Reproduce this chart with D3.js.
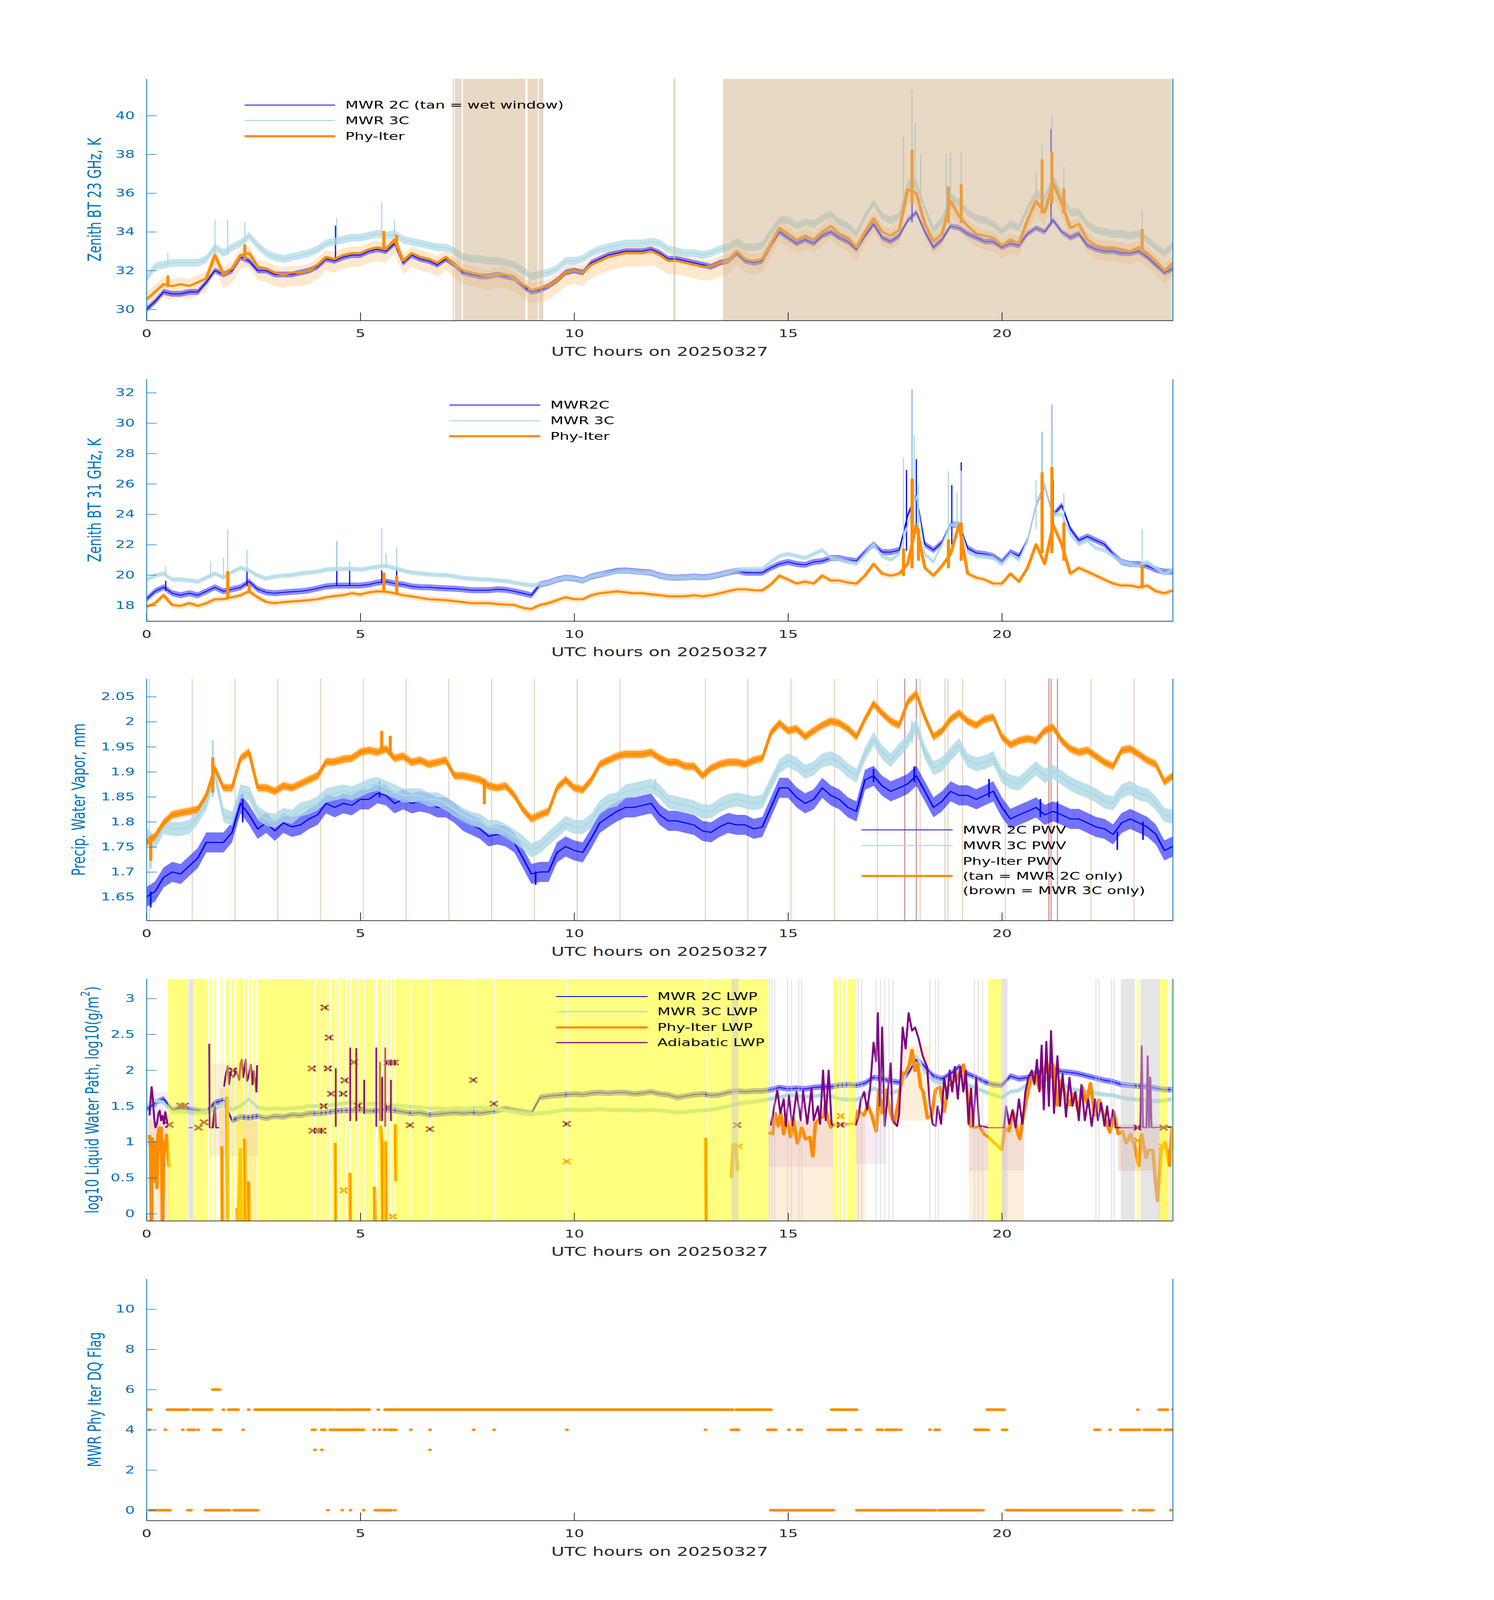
<!DOCTYPE html>
<html>
<head>
<meta charset="utf-8">
<script src="https://cdn.jsdelivr.net/npm/d3@7"></script>
<style>
  html, body { margin: 0; padding: 0; background: #fff; overflow: hidden; }
  svg { display: block; }
  text { font-family: "DejaVu Sans", sans-serif; }
</style>
</head>
<body>
<svg id="fig"></svg>
<script>
// ---------- data ----------
// common sampling grid, hours UTC every 0.2 h
const hr = d3.range(121).map(i => i * 0.2);
const xTicks = [0, 5, 10, 15, 20];

// panel 1 : 23 GHz BT
const mwr2c23 = [30.0,30.4,30.9,30.8,30.8,30.9,30.9,31.4,32.0,31.8,
 32.0,32.7,32.5,32.0,32.0,31.8,31.8,31.8,31.9,32.0,
 32.2,32.6,32.5,32.7,32.8,32.8,33.0,33.1,33.0,33.4,
 32.4,32.8,32.6,32.5,32.3,32.6,32.3,31.9,31.8,31.7,
 31.7,31.8,31.7,31.6,31.2,30.9,31.0,31.2,31.5,31.9,
 32.0,31.9,32.4,32.6,32.8,32.9,33.0,33.0,33.0,33.1,
 32.9,32.6,32.6,32.5,32.4,32.3,32.2,32.4,32.5,32.9,
 32.5,32.4,32.5,33.3,34.0,33.7,33.4,33.6,33.4,33.8,
 34.0,33.7,33.5,33.1,33.8,34.4,33.7,33.5,33.8,34.6,
 35.0,34.0,33.2,33.6,34.3,34.2,33.9,33.7,33.5,33.5,
 33.2,33.4,33.3,33.9,34.2,34.0,34.6,34.0,33.7,33.9,
 33.3,33.1,33.0,33.0,32.9,32.9,33.0,32.7,32.3,31.9,
 32.1];
const mwr3c23 = [31.6,32.2,32.3,32.4,32.4,32.4,32.4,32.6,33.2,32.9,
 33.2,33.4,33.8,33.3,32.9,32.7,32.6,32.7,32.8,32.9,
 33.1,33.4,33.5,33.6,33.7,33.7,33.8,33.9,33.8,33.9,
 33.6,33.5,33.4,33.3,33.2,33.2,33.0,32.7,32.6,32.6,
 32.5,32.5,32.4,32.3,32.0,31.7,31.8,31.9,32.1,32.5,
 32.5,32.6,32.9,33.1,33.2,33.3,33.4,33.4,33.4,33.5,
 33.4,33.1,33.0,32.9,32.9,32.8,32.9,33.1,33.2,33.5,
 33.2,33.2,33.3,34.0,34.6,34.6,34.3,34.5,34.4,34.7,
 34.9,34.5,34.3,33.9,34.8,35.5,34.8,34.6,34.8,36.5,
 36.5,35.2,34.1,34.6,35.8,35.5,35.0,34.7,34.6,34.4,
 34.0,34.4,34.2,35.2,36.0,35.7,36.8,35.8,35.0,35.0,
 34.4,34.1,34.0,33.9,33.9,33.8,33.9,33.6,33.2,32.9,
 33.3];
const phy23 = [30.5,30.9,31.3,31.2,31.3,31.2,31.4,31.6,32.8,31.8,
 32.1,32.8,32.9,32.2,32.1,31.9,31.8,31.9,31.9,32.0,
 32.3,32.7,32.6,32.8,32.9,32.9,33.1,33.2,33.1,33.6,
 32.5,32.9,32.7,32.6,32.4,32.7,32.3,32.0,31.9,31.8,
 31.7,31.8,31.8,31.6,31.3,31.0,31.1,31.2,31.5,31.9,
 32.0,31.9,32.3,32.5,32.7,32.8,32.9,32.9,32.9,33.0,
 32.8,32.5,32.5,32.4,32.3,32.2,32.2,32.4,32.5,33.0,
 32.6,32.5,32.6,33.4,34.2,33.9,33.6,33.8,33.6,34.0,
 34.3,33.9,33.7,33.2,34.0,34.7,34.0,33.8,34.1,36.2,
 36.0,34.4,33.5,33.9,35.6,34.8,34.3,33.9,33.8,33.7,
 33.3,33.6,33.4,34.6,35.6,35.0,36.5,35.5,34.2,34.4,
 33.6,33.3,33.2,33.2,33.1,33.0,33.2,32.9,32.5,32.0,
 32.4];
const phyErr23 = [0.7, 0.35];          // below, above
const noise2c23 = 0.15, noise3c23 = 0.2;  // half spread of the sample-to-sample scatter
// spikes: [hour, from, to]
const spikes2c23 = [[4.42,32.6,34.3],[17.9,34.5,35.6],[21.15,34.5,39.3]];
const spikes3c23 = [[0.5,32.3,32.9],[1.6,32.8,34.6],[1.9,32.8,34.6],[2.3,33.4,34.5],[4.45,33.4,34.7],
 [5.5,33.9,35.5],[5.8,33.8,34.6],[17.7,35.5,38.9],[17.9,36.0,41.3],[17.97,36.0,39.6],[18.1,35.5,38.0],
 [18.7,35.0,38.0],[18.8,35.2,38.1],[19.05,35.2,38.1],[20.8,35.5,37.1],[20.94,35.5,38.5],[21.17,36.0,40.0],
 [21.45,35.5,37.4],[23.28,33.8,35.1]];
const spikesPhy23 = [[0.5,31.2,31.7],[2.3,32.6,33.3],[5.55,33.1,34.0],[5.85,33.2,33.8],[17.9,35.5,38.2],
 [18.75,34.5,36.3],[19.05,34.5,36.4],[20.94,35.0,37.7],[21.17,35.5,38.1],[21.45,35.0,36.2],[23.28,33.0,34.1]];
const wetWindows = [[7.16,7.19],[7.21,7.37],[7.4,8.86],[8.91,9.15],[9.17,9.28],[12.32,12.37],[13.48,24]];

// panel 2 : 31 GHz BT
const mwr2c31 = [18.41,18.93,19.2,18.8,18.67,18.8,18.67,18.93,19.19,18.93,
 19.06,19.19,19.57,19.06,18.86,18.8,18.86,18.9,18.93,19.0,
 19.12,19.25,19.3,19.31,19.31,19.31,19.38,19.5,19.57,19.44,
 19.38,19.25,19.2,19.19,19.15,19.12,19.1,19.06,19.0,19.0,
 19.0,19.06,19.03,18.93,18.8,18.67,19.38,19.5,19.7,19.83,
 19.77,19.64,19.9,20.03,20.15,20.28,20.3,20.25,20.2,20.16,
 19.96,19.85,19.83,19.85,19.9,19.85,19.9,20.03,20.16,20.28,
 20.16,20.15,20.16,20.47,20.73,20.86,20.73,20.67,20.86,20.92,
 21.12,21.12,20.99,20.92,21.51,22.02,21.51,21.51,21.64,23.95,
 25.24,22.02,21.64,22.15,23.31,23.31,21.77,21.45,21.38,21.25,
 20.86,21.51,21.25,22.28,24.6,25.89,23.95,24.6,23.05,22.28,
 22.54,22.28,22.02,21.38,20.86,20.73,20.73,20.6,20.35,20.22,
 20.22];
const mwr3c31 = [19.7,19.96,20.1,19.7,19.7,19.64,19.57,19.83,20.1,19.83,
 20.2,20.47,20.3,19.96,19.77,19.9,19.96,20.0,20.1,20.16,
 20.22,20.35,20.4,20.4,20.41,20.35,20.45,20.55,20.6,20.45,
 20.3,20.16,20.1,20.05,20.0,20.0,19.9,19.8,19.77,19.72,
 19.7,19.64,19.6,19.5,19.4,19.31,19.38,19.5,19.7,19.83,
 19.77,19.64,19.9,20.03,20.1,20.22,20.28,20.22,20.16,20.16,
 19.96,19.83,19.83,19.83,19.9,19.83,19.9,20.03,20.16,20.35,
 20.4,20.38,20.41,20.86,21.25,21.38,21.25,21.12,21.38,21.64,
 21.12,21.05,20.86,20.73,21.38,22.02,21.25,21.0,21.38,23.3,
 25.2,21.38,20.86,22.02,23.3,23.3,21.5,21.25,21.2,21.12,
 20.73,21.38,21.0,22.28,24.6,25.9,24.0,24.0,22.67,22.02,
 22.28,21.77,21.64,21.25,20.86,20.73,20.6,20.86,20.47,20.09,
 20.35];
const phy31 = [17.9,18.15,18.67,18.03,17.97,18.15,17.97,18.15,18.41,18.41,
 18.54,18.67,18.93,18.54,18.22,18.15,18.22,18.26,18.3,18.35,
 18.41,18.54,18.62,18.67,18.8,18.73,18.86,18.93,18.9,18.8,
 18.67,18.6,18.5,18.41,18.38,18.35,18.28,18.22,18.15,18.15,
 18.15,18.09,18.05,18.03,17.84,17.77,18.03,18.15,18.35,18.54,
 18.41,18.41,18.67,18.8,18.86,18.93,18.86,18.8,18.8,18.73,
 18.67,18.6,18.6,18.6,18.67,18.6,18.67,18.8,18.93,19.06,
 19.06,19.0,18.99,19.38,19.96,19.7,19.44,19.57,19.44,19.96,
 19.64,19.64,19.5,19.44,19.96,20.73,20.09,19.96,20.09,20.73,
 23.3,20.47,19.96,20.6,21.38,23.31,20.09,19.83,19.7,19.44,
 19.44,20.09,19.57,20.47,22.02,20.73,23.3,22.0,20.09,20.47,
 20.22,19.96,19.7,19.44,19.31,19.31,19.19,19.31,18.93,18.8,
 18.99];
const phyErr31 = [0.22, 0.2];
const noise2c31 = 0.2, noise3c31 = 0.15;
const spikes2c31 = [[0.45,19.0,19.6],[2.35,19.3,20.35],[4.45,19.3,22.2],[4.75,19.3,20.3],[5.5,19.5,20.3],
 [5.85,19.4,20.4],[17.77,21.6,26.9],[17.9,23.0,32.2],[18.0,23.0,27.6],[18.83,22.0,25.9],[19.05,22.5,27.4],
 [20.94,24.0,29.4],[21.17,24.0,31.2],[21.2,23.0,26.2]];
const spikes3c31 = [[0.45,19.9,20.55],[1.5,19.8,20.86],[1.8,19.8,21.1],[1.9,19.9,22.98],[2.35,20.3,21.64],
 [4.45,20.3,22.2],[4.75,20.4,20.9],[5.5,20.5,23.08],[5.6,20.5,21.4],[5.85,20.4,21.8],[17.7,21.4,27.7],
 [17.9,23.0,32.2],[17.95,23.0,29.2],[18.05,22.0,26.0],[18.75,22.0,26.8],[18.95,22.5,25.4],[19.05,22.5,26.85],
 [20.8,23.0,26.2],[20.94,24.0,29.4],[21.17,24.0,31.2],[21.45,23.0,25.37],[23.28,20.6,22.99]];
const spikesPhy31 = [[1.9,18.5,20.2],[2.4,18.9,19.4],[5.55,18.9,20.09],[5.85,18.8,19.9],[17.7,20.0,21.7],
 [17.9,20.5,26.3],[18.05,21.0,23.0],[18.75,20.5,22.3],[19.05,21.0,23.4],[20.94,21.5,26.7],[21.17,21.5,27.05],
 [21.45,21.0,23.4],[23.28,19.2,20.6]];

// panel 3 : PWV
const pwv2c = [1.65,1.661,1.689,1.70,1.696,1.712,1.728,1.759,1.759,1.759,
 1.779,1.837,1.814,1.786,1.798,1.782,1.798,1.79,1.794,1.806,
 1.814,1.837,1.829,1.837,1.833,1.845,1.845,1.857,1.853,1.837,
 1.845,1.837,1.841,1.837,1.829,1.829,1.818,1.802,1.794,1.786,
 1.771,1.775,1.771,1.759,1.728,1.696,1.70,1.70,1.739,1.751,
 1.743,1.739,1.767,1.798,1.81,1.821,1.829,1.829,1.833,1.837,
 1.814,1.802,1.802,1.798,1.794,1.782,1.779,1.79,1.798,1.794,
 1.794,1.786,1.79,1.829,1.868,1.868,1.849,1.837,1.845,1.868,
 1.853,1.845,1.829,1.821,1.884,1.892,1.872,1.861,1.868,1.876,
 1.892,1.861,1.829,1.841,1.861,1.853,1.853,1.845,1.853,1.861,
 1.829,1.806,1.814,1.821,1.829,1.814,1.821,1.814,1.806,1.806,
 1.798,1.79,1.786,1.775,1.798,1.806,1.798,1.79,1.775,1.743,
 1.751];
const pwv3c = [1.775,1.759,1.79,1.786,1.786,1.79,1.81,1.837,1.896,1.814,
 1.806,1.861,1.857,1.818,1.806,1.802,1.814,1.81,1.825,1.829,
 1.837,1.853,1.857,1.861,1.857,1.864,1.872,1.876,1.868,1.861,
 1.853,1.853,1.853,1.845,1.845,1.837,1.825,1.814,1.806,1.802,
 1.79,1.79,1.782,1.771,1.759,1.743,1.751,1.767,1.782,1.798,
 1.79,1.79,1.802,1.829,1.841,1.845,1.861,1.864,1.868,1.872,
 1.861,1.841,1.837,1.833,1.829,1.821,1.821,1.833,1.841,1.845,
 1.841,1.837,1.841,1.876,1.911,1.923,1.915,1.9,1.907,1.923,
 1.927,1.919,1.903,1.892,1.935,1.966,1.939,1.923,1.943,1.962,
 1.993,1.939,1.907,1.915,1.935,1.954,1.923,1.915,1.919,1.927,
 1.892,1.88,1.876,1.892,1.907,1.892,1.9,1.888,1.876,1.868,
 1.861,1.853,1.841,1.837,1.861,1.868,1.857,1.853,1.837,1.814,
 1.81];
const pwvPhy = [1.759,1.771,1.798,1.814,1.818,1.821,1.825,1.853,1.907,1.868,
 1.868,1.927,1.939,1.868,1.868,1.861,1.872,1.868,1.876,1.884,
 1.892,1.92,1.92,1.925,1.927,1.939,1.943,1.939,1.946,1.927,
 1.931,1.919,1.923,1.915,1.919,1.923,1.892,1.892,1.888,1.884,
 1.872,1.868,1.872,1.853,1.825,1.806,1.814,1.821,1.868,1.884,
 1.868,1.864,1.884,1.915,1.923,1.931,1.935,1.935,1.935,1.939,
 1.927,1.919,1.919,1.911,1.911,1.892,1.907,1.915,1.919,1.919,
 1.915,1.923,1.927,1.978,1.997,1.982,1.986,1.97,1.982,1.993,
 2.001,1.997,1.986,1.97,2.005,2.036,2.017,2.001,1.993,2.04,
 2.056,2.009,1.97,1.982,2.005,2.017,2.001,1.993,2.005,2.009,
 1.97,1.954,1.962,1.966,1.962,1.982,1.989,1.962,1.946,1.939,
 1.943,1.931,1.919,1.911,1.943,1.946,1.935,1.923,1.915,1.88,
 1.892];
const pwvErr = [0.01, 0.01];
const noisePwv2c = 0.02, noisePwv3c = 0.014, noisePwvPhy = 0.007;
const spikesPwv2c = [[0.1,1.66,1.63],[9.1,1.70,1.675],[2.25,1.80,1.855],[5.45,1.85,1.88],[17.0,1.88,1.905],
 [17.95,1.88,1.91],[19.7,1.85,1.885],[20.9,1.81,1.845],[21.3,1.80,1.84],[22.7,1.78,1.745],[23.3,1.80,1.765]];
const spikesPwv3c = [[0.1,1.775,1.708],[1.55,1.85,1.962],[11.9,1.86,1.885],[17.9,1.96,2.0]];
const spikesPwvPhy = [[0.1,1.77,1.724],[1.55,1.86,1.927],[5.5,1.94,1.98],[5.7,1.94,1.97],[7.9,1.884,1.837]];
const only2cHours = [0.07,1.07,2.07,3.07,4.07,5.07,6.07,7.07,8.07,9.07,10.07,11.07,13.07,14.06,15.07,
 16.09,17.09,18.09,18.67,18.74,19.08,20.08,22.08,23.09];
const only3cHours = [17.73,18.0,21.1,21.15,21.3];

// panel 4 : LWP (log10)
const lwp2c = [1.45,1.55,1.60,1.45,1.47,1.46,1.44,1.42,1.55,1.58,
 1.30,1.35,1.34,1.36,1.33,1.36,1.35,1.38,1.37,1.40,
 1.40,1.41,1.43,1.44,1.44,1.45,1.43,1.44,1.45,1.44,
 1.42,1.40,1.41,1.38,1.39,1.40,1.41,1.40,1.41,1.40,
 1.42,1.44,1.47,1.44,1.42,1.40,1.62,1.64,1.65,1.66,
 1.67,1.66,1.68,1.69,1.68,1.69,1.69,1.67,1.68,1.70,
 1.67,1.66,1.62,1.64,1.66,1.67,1.65,1.66,1.69,1.71,
 1.70,1.71,1.71,1.73,1.76,1.74,1.75,1.74,1.76,1.77,
 1.77,1.79,1.80,1.79,1.82,1.90,1.88,1.85,1.83,1.95,
 2.15,2.05,1.92,1.88,1.95,2.05,1.95,1.90,1.84,1.80,
 1.79,1.92,1.88,1.90,1.97,1.99,2.03,1.98,1.97,1.95,
 1.92,1.89,1.86,1.84,1.80,1.79,1.78,1.77,1.75,1.73,
 1.73];
const lwp3c = [1.50,1.58,1.55,1.42,1.42,1.41,1.40,1.42,1.45,1.55,
 1.45,1.50,1.60,1.48,1.46,1.47,1.46,1.47,1.48,1.50,
 1.50,1.51,1.52,1.54,1.55,1.55,1.53,1.54,1.52,1.51,
 1.50,1.49,1.48,1.47,1.47,1.46,1.47,1.47,1.47,1.48,
 1.47,1.46,1.44,1.42,1.40,1.39,1.40,1.41,1.43,1.45,
 1.45,1.44,1.45,1.46,1.45,1.44,1.45,1.44,1.44,1.45,
 1.44,1.43,1.41,1.42,1.43,1.44,1.45,1.47,1.50,1.53,
 1.55,1.56,1.58,1.60,1.62,1.66,1.64,1.63,1.64,1.65,
 1.64,1.60,1.59,1.59,1.65,1.75,1.70,1.68,1.72,2.00,
 2.20,1.98,1.85,1.82,1.90,1.98,1.80,1.75,1.70,1.66,
 1.62,1.70,1.72,1.80,1.88,1.85,1.98,1.82,1.74,1.72,
 1.70,1.68,1.66,1.65,1.62,1.60,1.59,1.58,1.57,1.58,
 1.60];
const noiseLwp2c = 0.04, noiseLwp3c = 0.03;
// [hour, value]; null breaks the line
const lwpPhy = [[0.07,1.1],[0.1,0.9],[0.116,-0.3],[0.13,1.05],[0.16,0.5],[0.18,0.45],[0.2,1.0],[0.22,0.85],
 [0.245,0.36],[0.27,1.1],[0.3,1.2],[0.32,0.9],[0.342,1.2],[0.36,0.6],[0.375,-0.3],[0.4,0.8],[0.42,1.0],
 [0.45,0.9],[0.47,1.1],[0.5,0.85],[0.53,0.65],[0.54,null],
 [1.74,null],[1.76,0.94],[1.78,-0.3],[1.79,null],[1.86,null],[1.88,1.63],[1.9,-0.3],[1.91,null],
 [2.1,null],[2.12,0.08],[2.14,-0.3],[2.2,0.9],[2.22,-0.3],[2.24,null],[2.3,1.05],[2.32,-0.3],[2.34,null],
 [2.39,0.45],[2.41,-0.3],[2.43,null],
 [4.40,null],[4.41,0.99],[4.43,-0.3],[4.44,null],[4.74,null],[4.75,0.57],[4.77,-0.3],[4.78,null],
 [5.32,null],[5.33,0.38],[5.35,-0.3],[5.36,null],
 [5.46,null],[5.47,1.23],[5.5,0.9],[5.53,-0.3],[5.55,0.1],[5.58,1.0],[5.6,-0.3],[5.61,null],
 [5.81,null],[5.82,1.25],[5.84,0.45],[5.85,null],[13.06,null],[13.07,1.06],[13.09,-0.3],[13.1,null],
 [13.67,null],[13.68,0.5],[13.72,0.97],[13.78,0.95],[13.82,0.6],[13.83,null],
 [14.54,1.13],[14.64,1.11],[14.70,1.40],[14.77,1.22],[14.83,1.40],[14.90,1.11],[14.96,1.33],[15.06,1.07],
 [15.12,1.33],[15.22,0.98],[15.32,1.20],[15.41,1.04],[15.51,1.07],[15.58,0.80],[15.64,1.26],[15.74,1.33],
 [15.83,1.35],[15.87,1.51],[15.93,1.33],[16.0,1.20],[16.06,1.24],[16.25,1.24],[16.58,1.26],[16.64,1.44],
 [16.77,1.37],[16.87,1.51],[16.96,1.37],[17.06,1.15],[17.13,1.73],[17.19,1.40],[17.29,1.73],[17.39,1.42],
 [17.48,1.26],[17.58,1.55],[17.68,1.97],[17.74,1.95],[17.84,2.08],[17.90,2.28],[17.97,1.99],[18.03,2.08],
 [18.10,1.77],[18.16,1.70],[18.26,1.33],[18.36,1.37],[18.45,1.73],[18.55,1.77],[18.65,1.42],[18.74,1.77],
 [18.84,1.82],[18.94,1.88],[19.03,1.99],[19.10,2.08],[19.2,1.64],[19.26,1.22],[19.36,1.20],[19.48,1.22],
 [19.58,1.11],[19.68,1.07],[20.0,0.89],[20.07,1.20],[20.16,1.15],[20.26,1.42],[20.36,1.15],[20.42,1.04],
 [20.49,1.33],[20.59,1.64],[20.68,1.88],[20.78,1.95],[20.88,1.73],[20.97,1.88],[21.04,2.12],[21.14,1.90],
 [21.2,2.08],[21.30,1.51],[21.39,1.86],[21.49,1.64],[21.59,1.51],[21.68,1.68],[21.78,1.44],[21.88,1.77],
 [21.98,1.55],[22.07,1.82],[22.17,1.37],[22.27,1.59],[22.4,1.33],[22.53,1.13],[22.62,1.42],[22.72,1.11],
 [22.82,1.15],[22.91,0.98],[23.01,1.11],[23.11,0.93],[23.20,0.67],[23.27,1.11],[23.37,0.78],[23.43,0.89],
 [23.53,0.89],[23.59,0.45],[23.64,0.18],[23.72,0.89],[23.82,1.0],[23.92,0.67],[23.98,1.20]];
const lwpAdiabatic = [[0.05,null],[0.07,1.37],[0.12,1.77],[0.15,1.6],[0.18,1.33],[0.21,1.2],[0.245,1.26],
 [0.28,1.4],[0.31,1.44],[0.34,1.3],[0.375,1.37],[0.41,1.25],[0.44,1.42],[0.49,1.26],[0.5,null],
 [0.98,null],[0.99,1.2],[1.08,1.2],[1.09,null],
 [1.46,null],[1.47,2.37],[1.48,1.2],[1.55,1.2],[1.6,1.5],[1.62,1.2],[1.7,1.2],[1.72,null],
 [1.8,null],[1.81,1.77],[1.86,1.95],[1.9,2.06],[1.93,1.8],[1.96,1.97],[2.03,1.9],[2.1,1.99],[2.17,1.86],
 [2.2,2.1],[2.23,2.15],[2.26,1.9],[2.28,1.97],[2.32,2.15],[2.35,1.85],[2.38,1.9],[2.44,2.08],[2.48,1.8],
 [2.51,1.99],[2.57,1.7],[2.59,2.07],[2.6,null],
 [14.58,null],[14.6,1.23],[14.68,1.5],[14.75,1.72],[14.82,1.4],[14.9,1.6],[14.95,1.22],[15.02,1.65],
 [15.1,1.23],[15.2,1.7],[15.3,1.3],[15.35,1.72],[15.45,1.25],[15.55,1.75],[15.6,1.3],[15.7,1.5],[15.75,1.25],
 [15.82,2.0],[15.88,1.3],[15.95,2.0],[16.02,1.25],[16.06,1.23],[16.1,null],
 [16.56,null],[16.58,1.23],[16.64,1.33],[16.7,1.58],[16.78,1.7],[16.85,1.45],[16.92,1.75],[17.0,2.39],
 [17.06,2.12],[17.1,2.8],[17.15,1.5],[17.2,2.6],[17.26,1.22],[17.32,1.6],[17.4,2.1],[17.45,1.3],[17.55,1.22],
 [17.6,1.4],[17.68,2.6],[17.75,2.3],[17.82,2.8],[17.9,2.55],[17.97,2.6],[18.05,2.45],[18.15,2.2],[18.25,2.05],
 [18.32,1.5],[18.38,1.25],[18.45,1.22],[18.5,1.5],[18.58,1.25],[18.65,1.9],[18.72,1.6],[18.78,2.0],
 [18.84,1.7],[18.9,2.05],[18.97,1.6],[19.03,2.05],[19.1,1.7],[19.16,2.0],[19.22,1.25],[19.28,1.75],
 [19.33,1.22],[19.4,1.9],[19.47,1.22],[19.55,1.22],[19.68,1.2],[20.05,1.2],[20.1,1.5],[20.17,1.25],
 [20.25,1.45],[20.32,1.2],[20.4,1.6],[20.48,1.25],[20.55,1.7],[20.62,1.9],[20.7,2.0],[20.76,1.8],[20.82,2.15],
 [20.88,1.7],[20.93,2.35],[20.98,1.45],[21.04,2.4],[21.1,1.5],[21.15,2.55],[21.22,1.4],[21.3,2.2],[21.36,1.5],
 [21.42,1.95],[21.5,1.35],[21.58,1.9],[21.65,1.5],[21.72,1.7],[21.8,1.3],[21.86,1.8],[21.94,1.3],[22.02,1.6],
 [22.1,1.22],[22.18,1.6],[22.25,1.3],[22.32,1.55],[22.4,1.22],[22.46,1.5],[22.52,1.22],[22.6,1.45],[22.66,1.2],
 [23.24,1.2],[23.27,2.34],[23.3,1.2],[23.38,1.2],[23.41,2.2],[23.44,1.2],[23.47,1.9],[23.5,1.2],[24.0,1.21]];
const spikesAdiabatic = [[4.43,1.22,2.02],[4.76,1.3,2.31],[4.91,1.3,2.30],[5.09,1.4,1.86],[5.37,1.22,2.31],
 [5.46,1.3,2.11],[5.51,1.3,1.9],[5.58,1.22,2.31],[5.72,1.3,1.86]];
// uncertainty blocks [h0, h1, lo, hi]
const bandPhyLwp = [[0.05,0.55,-0.1,1.3],[1.7,1.95,-0.1,1.75],[2.1,2.6,-0.1,1.3],[14.54,16.06,-0.1,1.3],
 [16.58,16.8,-0.1,1.4],[17.6,18.3,1.3,2.35],[19.23,19.68,-0.1,1.25],[20.0,20.52,-0.1,1.3],
 [22.72,23.65,0.6,1.25],[23.65,24.0,-0.1,1.2]];
const bandAdiabatic = [[0.05,0.5,0.8,1.7],[1.46,2.6,0.8,2.1],[14.54,16.06,0.65,1.3],
 [16.58,17.3,0.7,1.4],[19.23,19.68,0.6,1.25],[20.0,20.52,0.6,1.25],[22.72,23.65,0.6,1.25]];
const xAdiabatic = [[0.536,1.24],[0.795,1.506],[0.892,1.506],[1.215,1.20],[1.344,1.275],[2.023,1.996],
 [3.866,2.025],[3.886,1.158],[4.015,1.158],[4.105,1.158],[4.144,1.50],[4.17,2.874],[4.24,2.025],[4.273,2.455],
 [4.318,1.672],[4.596,1.672],[4.641,1.859],[4.855,2.113],[4.945,1.506],[5.644,2.107],[5.728,2.107],
 [5.805,2.107],[5.644,1.484],[6.16,1.235],[6.626,1.18],[7.641,1.864],[8.12,1.533],[9.826,1.253],
 [13.81,1.236],[16.23,1.24],[23.17,1.2],[23.78,1.2]];
const xPhy = [[4.609,0.326],[9.826,0.73],[5.76,-0.04],[13.85,0.94],[16.23,1.36],[23.18,1.02],[23.76,0.94]];
const dqYellow = [[0,0.03],[0.5,0.97],[1.1,1.43],[1.48,1.52],[1.58,1.62],[1.72,1.74],[1.79,1.81],[1.86,1.94],
 [1.99,2.05],[2.1,2.26],[2.3,2.36],[2.4,2.46],[2.5,2.55],[2.6,14.54],[16.06,16.58],[19.68,20.0],[23.15,23.2],
 [23.69,23.88],[23.95,24.0]];
const dqYellowGaps = [3.93,4.09,4.19,4.30,4.42,4.48,4.56,4.67,4.77,4.90,4.98,5.09,5.32,5.38,5.51,5.61,5.71,
 5.81,6.16,6.63,7.65,8.13,9.81,13.08,16.17,16.27,16.37];
const dqGray = [[0.98,1.1],[13.68,13.84],[20.0,20.13],[22.78,23.11],[23.24,23.69]];
const dqGrayLines = [14.57,14.63,14.69,14.99,15.08,15.25,15.32,16.64,16.72,17.06,17.16,17.26,17.36,17.45,
 18.32,18.45,18.52,19.36,19.45,19.55,22.2,22.27,22.56,22.62];

// panel 5 : DQ flag runs [flag, from, to]
const dqFlagRuns = [
 [5,0,0.1],[5,0.49,0.98],[5,1.09,1.52],[5,1.8,1.8],[5,1.92,2.14],[5,2.39,2.39],[5,2.54,4.38],[5,4.45,4.68],
 [5,4.74,5.02],[5,5.07,5.21],[5,5.42,5.42],[5,5.58,13.70],[5,13.79,14.6],[5,16.02,16.6],[5,19.66,20.05],
 [5,23.18,23.18],[5,23.68,23.87],[5,24.0,24.0],
 [4,0.07,0.07],[4,0.44,0.44],[4,0.85,0.85],[4,0.98,1.12],[4,1.21,1.21],[4,1.57,1.73],[4,2.26,2.26],
 [4,3.88,3.94],[4,4.1,4.17],[4,4.3,5.07],[4,5.32,5.32],[4,5.45,5.45],[4,5.57,5.6],[4,5.68,5.83],[4,6.18,6.18],
 [4,6.63,6.63],[4,7.65,7.65],[4,8.13,8.13],[4,9.83,9.83],[4,13.07,13.07],[4,13.68,13.84],[4,14.53,14.71],
 [4,15.02,15.02],[4,15.22,15.31],[4,15.94,16.05],[4,16.12,16.34],[4,16.6,16.69],[4,17.09,17.2],[4,17.3,17.55],
 [4,17.63,17.63],[4,18.32,18.32],[4,18.44,18.53],[4,19.38,19.68],[4,20.02,20.11],[4,22.18,22.28],
 [4,22.53,22.53],[4,22.78,23.22],[4,23.33,23.7],[4,23.82,24.0],
 [3,3.94,3.94],[3,4.1,4.1],[3,6.63,6.63],
 [6,1.55,1.71],
 [0,0.07,0.55],[0,0.97,1.04],[0,1.38,1.94],[0,2.05,2.6],[0,4.24,4.24],[0,4.58,4.58],[0,4.77,4.77],
 [0,5.08,5.08],[0,5.35,5.72],[0,5.81,5.81],[0,14.6,16.06],[0,16.61,17.4],[0,17.45,18.44],[0,18.53,19.5],
 [0,19.56,19.56],[0,20.11,22.78],[0,23.08,23.08],[0,23.22,23.53],[0,23.95,23.95]];

// ---------- drawing ----------
// the figure is laid out on a 3825 x 6000 canvas; the visible window may be shorter,
// so the canvas is fitted to the window height
const FIG_W = 3825, FIG_H = 6000;
const winH = Math.min(FIG_H, window.innerHeight || FIG_H);
const svg = d3.select("#fig")
  .attr("width", FIG_W).attr("height", winH)
  .attr("viewBox", `0 0 ${FIG_W} ${FIG_H}`)
  .attr("preserveAspectRatio", "none");
const defs = svg.append("defs");
const L = 375, R = 3003, PH = 907;
const x = d3.scaleLinear().domain([0, 24]).range([L, R]);
const axBlue = "#0072BD", axDark = "#262626";
const cBlue = "#0000FF", cLight = "#ADD8E6", cOrange = "#FF8C00", cPurple = "#800080";

function makePanel(id, top, domain) {
  const y = d3.scaleLinear().domain(domain).range([top + PH, top]);
  defs.append("clipPath").attr("id", "clip" + id).append("rect")
    .attr("x", L).attr("y", top).attr("width", R - L).attr("height", PH);
  const plot = svg.append("g").attr("clip-path", `url(#clip${id})`);
  return { top, y, plot };
}

function gridLine(p, vals, color, w) {
  p.plot.append("path").datum(vals)
    .attr("fill", "none").attr("stroke", color).attr("stroke-width", w)
    .attr("stroke-linejoin", "round")
    .attr("d", d3.line().defined(d => d != null).x((d, i) => x(hr[i])).y(d => p.y(d)));
}
function pairLine(p, pairs, color, w) {
  p.plot.append("path").datum(pairs)
    .attr("fill", "none").attr("stroke", color).attr("stroke-width", w)
    .attr("stroke-linejoin", "round")
    .attr("d", d3.line().defined(d => d[1] != null).x(d => x(d[0])).y(d => p.y(d[1])));
}
function gridBand(p, vals, lo, hi, color, op) {
  p.plot.append("path").datum(vals)
    .attr("fill", color).attr("fill-opacity", op)
    .attr("d", d3.area().x((d, i) => x(hr[i])).y0(d => p.y(d - lo)).y1(d => p.y(d + hi)));
}
function spikes(p, list, color, w) {
  p.plot.append("g").selectAll("line").data(list).enter().append("line")
    .attr("x1", d => x(d[0])).attr("x2", d => x(d[0]))
    .attr("y1", d => p.y(d[1])).attr("y2", d => p.y(d[2]))
    .attr("stroke", color).attr("stroke-width", w).attr("stroke-linecap", "round");
}
function spans(p, list, color, op) {
  p.plot.append("g").selectAll("rect").data(list).enter().append("rect")
    .attr("x", d => x(d[0])).attr("width", d => Math.max(1.5, x(d[1]) - x(d[0])))
    .attr("y", p.top).attr("height", PH)
    .attr("fill", color).attr("fill-opacity", op);
}
function blocks(p, list, color, op) {
  p.plot.append("g").selectAll("rect").data(list).enter().append("rect")
    .attr("x", d => x(d[0])).attr("width", d => x(d[1]) - x(d[0]))
    .attr("y", d => p.y(d[3])).attr("height", d => p.y(d[2]) - p.y(d[3]))
    .attr("fill", color).attr("fill-opacity", op);
}
function vlines(p, list, color, w, op) {
  p.plot.append("g").selectAll("line").data(list).enter().append("line")
    .attr("x1", d => x(d)).attr("x2", d => x(d)).attr("y1", p.top).attr("y2", p.top + PH)
    .attr("stroke", color).attr("stroke-width", w).attr("stroke-opacity", op);
}
function crosses(p, list, color) {
  const s = 10;
  const g = p.plot.append("g");
  list.forEach(d => {
    const cx = x(d[0]), cy = p.y(d[1]);
    g.append("path").attr("d", `M${cx - s},${cy - s}L${cx + s},${cy + s}M${cx - s},${cy + s}L${cx + s},${cy - s}`)
      .attr("stroke", color).attr("stroke-width", 6).attr("fill", "none");
  });
}
function splitSpans(list, gaps, w) {
  const out = [];
  list.forEach(([a, b]) => {
    let s = a;
    gaps.filter(g => g > a && g < b).forEach(g => { out.push([s, g - w / 2]); s = g + w / 2; });
    out.push([s, b]);
  });
  return out;
}
function legend(entries, x1, x2, tx) {
  const g = svg.append("g");
  entries.forEach(e => {
    if (e.color) g.append("line").attr("x1", x1).attr("x2", x2).attr("y1", e.y).attr("y2", e.y)
      .attr("stroke", e.color).attr("stroke-width", e.w);
    if (e.label) g.append("text").attr("x", tx).attr("y", e.y).attr("dominant-baseline", "central")
      .attr("font-size", 39).attr("fill", "#000").text(e.label);
  });
}
function axes(p, ticks, fmt, label, labelX) {
  const g = svg.append("g");
  const xa = g.append("g").attr("transform", `translate(0,${p.top + PH})`)
    .call(d3.axisBottom(x).tickValues(xTicks).tickSize(-30).tickSizeOuter(0).tickPadding(35));
  xa.attr("font-size", 39).attr("font-family", "DejaVu Sans");
  xa.select(".domain").attr("stroke", axDark).attr("stroke-width", 2.5);
  xa.selectAll(".tick line").attr("stroke", axDark).attr("stroke-width", 2);
  xa.selectAll(".tick text").attr("fill", axDark);
  const ya = g.append("g").attr("transform", `translate(${L},0)`)
    .call(d3.axisLeft(p.y).tickValues(ticks).tickFormat(fmt).tickSize(-26).tickSizeOuter(0).tickPadding(30));
  ya.attr("font-size", 39).attr("font-family", "DejaVu Sans");
  ya.select(".domain").attr("stroke", axBlue).attr("stroke-width", 2);
  ya.selectAll(".tick line").attr("stroke", axBlue).attr("stroke-width", 2);
  ya.selectAll(".tick text").attr("fill", axBlue);
  g.append("line").attr("x1", R).attr("x2", R).attr("y1", p.top).attr("y2", p.top + PH)
    .attr("stroke", axBlue).attr("stroke-width", 2);
  g.append("text").attr("x", (L + R) / 2).attr("y", p.top + PH + 132).attr("text-anchor", "middle")
    .attr("font-size", 46).attr("fill", axDark).text("UTC hours on 20250327");
  const yl = g.append("text").attr("transform", `translate(${labelX},${p.top + PH / 2}) rotate(-90)`)
    .attr("text-anchor", "middle").attr("dominant-baseline", "central")
    .attr("font-size", 46).attr("fill", axBlue);
  label(yl);
}
const fmtG = d3.format("~g");

// ---- panel 1
const p1 = makePanel(1, 295, [29.42, 41.91]);
gridBand(p1, phy23, phyErr23[0], phyErr23[1], cOrange, 0.2);
gridBand(p1, mwr2c23, noise2c23, noise2c23, cBlue, 0.45);
gridLine(p1, mwr2c23, cBlue, 3);
spikes(p1, spikes2c23, cBlue, 3);
gridBand(p1, mwr3c23, noise3c23, noise3c23, cLight, 0.7);
gridLine(p1, mwr3c23, cLight, 3);
spikes(p1, spikes3c23, cLight, 3);
gridLine(p1, phy23, cOrange, 8);
spikes(p1, spikesPhy23, cOrange, 8);
spans(p1, wetWindows, "#D2B48C", 0.5);
axes(p1, d3.range(30, 41, 2), fmtG, t => t.text("Zenith BT 23 GHz, K"), 242);
legend([{ y: 394, color: cBlue, w: 3, label: "MWR 2C (tan = wet window)" },
        { y: 452, color: cLight, w: 4, label: "MWR 3C" },
        { y: 511, color: cOrange, w: 8, label: "Phy-Iter" }], 626, 858, 884);

// ---- panel 2
const p2 = makePanel(2, 1422, [16.97, 32.89]);
gridBand(p2, phy31, phyErr31[0], phyErr31[1], cOrange, 0.2);
gridBand(p2, mwr2c31, noise2c31, noise2c31, cBlue, 0.45);
gridLine(p2, mwr2c31, cBlue, 3);
spikes(p2, spikes2c31, cBlue, 3);
gridBand(p2, mwr3c31, noise3c31, noise3c31, cLight, 0.7);
gridLine(p2, mwr3c31, cLight, 3);
spikes(p2, spikes3c31, cLight, 3);
gridLine(p2, phy31, cOrange, 8);
spikes(p2, spikesPhy31, cOrange, 8);
axes(p2, d3.range(18, 33, 2), fmtG, t => t.text("Zenith BT 31 GHz, K"), 242);
legend([{ y: 1519, color: cBlue, w: 3, label: "MWR2C" },
        { y: 1578, color: cLight, w: 4, label: "MWR 3C" },
        { y: 1636, color: cOrange, w: 8, label: "Phy-Iter" }], 1150, 1383, 1409);

// ---- panel 3
const p3 = makePanel(3, 2545, [1.603, 2.086]);
vlines(p3, only2cHours, "#D2B48C", 3, 0.55);
vlines(p3, only3cHours, "#A52A2A", 3, 0.5);
gridBand(p3, pwvPhy, pwvErr[0], pwvErr[1], cOrange, 0.2);
gridBand(p3, pwv2c, noisePwv2c, noisePwv2c, cBlue, 0.55);
gridLine(p3, pwv2c, cBlue, 4);
spikes(p3, spikesPwv2c, cBlue, 4);
gridBand(p3, pwv3c, noisePwv3c, noisePwv3c, cLight, 0.8);
gridLine(p3, pwv3c, cLight, 5);
spikes(p3, spikesPwv3c, cLight, 5);
gridBand(p3, pwvPhy, noisePwvPhy, noisePwvPhy, cOrange, 0.8);
gridLine(p3, pwvPhy, cOrange, 8);
spikes(p3, spikesPwvPhy, cOrange, 8);
axes(p3, [1.65, 1.7, 1.75, 1.8, 1.85, 1.9, 1.95, 2, 2.05], fmtG, t => t.text("Precip. Water Vapor, mm"), 201);
legend([{ y: 3112, color: cBlue, w: 3, label: "MWR 2C PWV" },
        { y: 3171, color: cLight, w: 4, label: "MWR 3C PWV" },
        { y: 3230, label: "Phy-Iter PWV" },
        { y: 3285, color: cOrange, w: 8, label: "(tan = MWR 2C only)" },
        { y: 3340, label: "(brown = MWR 3C only)" }], 2206, 2439, 2465);

// ---- panel 4
const p4 = makePanel(4, 3671, [-0.098, 3.273]);
blocks(p4, bandPhyLwp, cOrange, 0.15);
blocks(p4, bandAdiabatic, cPurple, 0.07);
gridBand(p4, lwp2c, noiseLwp2c, noiseLwp2c, cBlue, 0.45);
gridLine(p4, lwp2c, cBlue, 3);
gridBand(p4, lwp3c, noiseLwp3c, noiseLwp3c, cLight, 0.8);
gridLine(p4, lwp3c, cLight, 6);
pairLine(p4, lwpPhy, cOrange, 9);
pairLine(p4, lwpAdiabatic, cPurple, 5);
spikes(p4, spikesAdiabatic, cPurple, 5);
crosses(p4, xAdiabatic, cPurple);
crosses(p4, xPhy, cOrange);
spans(p4, splitSpans(dqYellow, dqYellowGaps, 0.03), "#FFFF00", 0.5);
spans(p4, dqGray, "#CCCCCC", 0.5);
vlines(p4, dqGrayLines, "#CCCCCC", 3, 0.5);
axes(p4, [0, 0.5, 1, 1.5, 2, 2.5, 3], fmtG, t => {
  t.append("tspan").text("log10 Liquid Water Path, log10(g/m");
  t.append("tspan").attr("baseline-shift", "super").attr("font-size", 32).text("2");
  t.append("tspan").text(")");
}, 236);
legend([{ y: 3737, color: cBlue, w: 3, label: "MWR 2C LWP" },
        { y: 3794, color: cLight, w: 4, label: "MWR 3C LWP" },
        { y: 3853, color: cOrange, w: 8, label: "Phy-Iter LWP" },
        { y: 3910, color: cPurple, w: 4, label: "Adiabatic LWP" }], 1424, 1658, 1683);

// ---- panel 5
const p5 = makePanel(5, 4795, [-0.514, 11.516]);
p5.plot.append("g").selectAll("line").data(dqFlagRuns).enter().append("line")
  .attr("x1", d => x(d[1])).attr("x2", d => x(d[2]))
  .attr("y1", d => p5.y(d[0])).attr("y2", d => p5.y(d[0]))
  .attr("stroke", cOrange).attr("stroke-width", 10).attr("stroke-linecap", "round");
axes(p5, d3.range(0, 11, 2), fmtG, t => t.text("MWR Phy Iter DQ Flag"), 242);
</script>
</body>
</html>
